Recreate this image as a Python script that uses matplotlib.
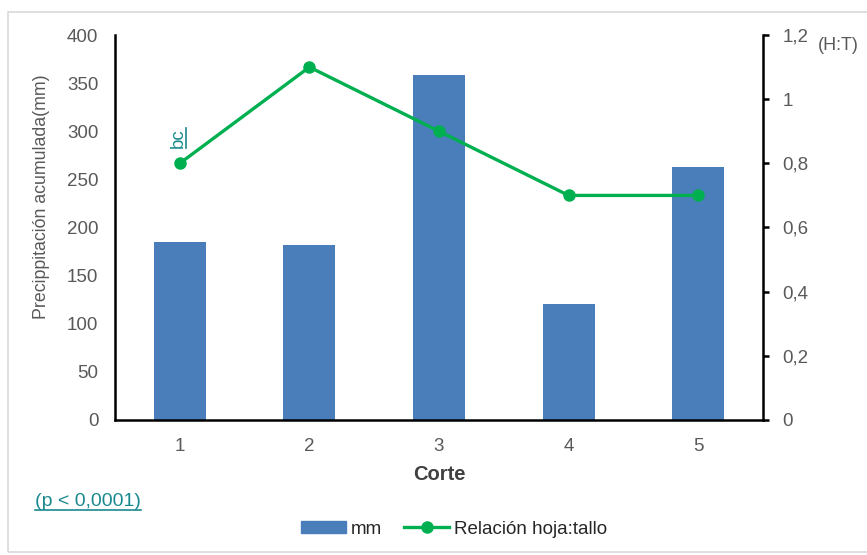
import matplotlib
matplotlib.use("Agg")
import matplotlib.pyplot as plt
from matplotlib.patches import Rectangle
from matplotlib.lines import Line2D
from matplotlib.ticker import FuncFormatter

plt.rcParams['font.family'] = ['Liberation Sans', 'DejaVu Sans']

cortes = [1, 2, 3, 4, 5]
precip_mm = [185, 182, 358, 121, 263]
relacion_ht = [0.8, 1.1, 0.9, 0.7, 0.7]
left_ticks = [0, 50, 100, 150, 200, 250, 300, 350, 400]
right_ticks = [0, 0.2, 0.4, 0.6, 0.8, 1.0, 1.2]

W, H = 867, 555
fig = plt.figure(figsize=(W / 100, H / 100), dpi=100)
fig.patch.set_facecolor('white')

# light frame around the chart
fig.add_artist(Rectangle((8 / W, 1 - 552 / H), (870 - 8) / W, (552 - 12) / H,
                         transform=fig.transFigure, fill=False,
                         edgecolor='#d9d9d9', linewidth=1.2))

ax = fig.add_axes([115 / W, 1 - 420 / H, (763 - 115) / W, (420 - 35) / H])
ax2 = ax.twinx()

bar_color = '#4A7EBB'
line_color = '#00B050'
grey = '#595959'
teal = '#1B8A8F'
FS = 13.5

ax.bar(cortes, precip_mm, width=0.4, color=bar_color, zorder=2)
ax.set_xlim(0.5, 5.5)
ax.set_ylim(0, 400)
ax.set_yticks(left_ticks)
ax.set_xticks(cortes)

ax2.plot(cortes, relacion_ht, color=line_color, linewidth=2.4, marker='o',
         markersize=8, zorder=3)
ax2.set_ylim(0, 1.2)
ax2.set_yticks(right_ticks)
ax2.yaxis.set_major_formatter(FuncFormatter(
    lambda v, p: ('%g' % round(v, 1)).replace('.', ',')))

for a in (ax, ax2):
    for s in a.spines.values():
        s.set_visible(False)
ax.spines['left'].set_visible(True)
ax.spines['bottom'].set_visible(True)
ax2.spines['right'].set_visible(True)
for s in (ax.spines['left'], ax.spines['bottom'], ax2.spines['right']):
    s.set_color('black')
    s.set_linewidth(1.8)

ax.tick_params(axis='y', length=0, pad=12, labelsize=FS, labelcolor=grey)
ax.tick_params(axis='x', length=0, pad=13, labelsize=FS, labelcolor=grey)
ax2.tick_params(axis='y', direction='out', length=4, width=1.8, color='black',
                pad=10, labelsize=FS, labelcolor=grey)

ax.set_xlabel('Corte', fontsize=14.5, fontweight='bold', color='#404040',
              labelpad=7)
fig.text(42 / W, 1 - 197 / H, 'Precippitación acumulada(mm)', rotation=90,
         ha='center', va='center', fontsize=12.8, color=grey)
fig.text(818 / W, 1 - 46 / H, '(H:T)', ha='left', va='center', fontsize=13,
         color=grey)

# annotation "bc" (rotated) and p-value, underlined
t_bc = ax2.text(0.985, 0.88, 'bc', rotation=90, ha='center', va='center',
                fontsize=13.5, color=teal)
t_p = fig.text(35 / W, 1 - 502 / H, '(p < 0,0001)', ha='left', va='center',
               fontsize=14, color=teal)

# legend
handles = [Rectangle((0, 0), 1, 1, color=bar_color),
           Line2D([], [], color=line_color, linewidth=2.4, marker='o',
                  markersize=8)]
leg = fig.legend(handles, ['mm', 'Relación hoja:tallo'], loc='center',
                 bbox_to_anchor=(454 / W, 1 - 529 / H), ncol=2, frameon=False,
                 fontsize=FS, handlelength=2.4, handleheight=0.6,
                 columnspacing=1.2, handletextpad=0.25, labelcolor='#262626')

fig.canvas.draw()
r = fig.canvas.get_renderer()
inv = fig.transFigure.inverted()
bb = t_p.get_window_extent(r)
(x0, y0), (x1, y1) = inv.transform([(bb.x0, bb.y0), (bb.x1, bb.y1)])
fig.add_artist(Line2D([x0, x1], [y0 + 1 / H, y0 + 1 / H],
                      transform=fig.transFigure, color=teal, linewidth=1.2))
bb = t_bc.get_window_extent(r)
(x0, y0), (x1, y1) = inv.transform([(bb.x0, bb.y0), (bb.x1, bb.y1)])
fig.add_artist(Line2D([x1 - 0.5 / W, x1 - 0.5 / W], [y0, y1],
                      transform=fig.transFigure, color=teal, linewidth=1.2))

fig.savefig('out.png', dpi=100)
